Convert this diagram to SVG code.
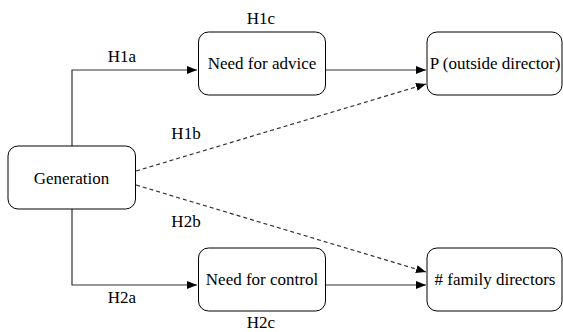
<svg xmlns="http://www.w3.org/2000/svg" width="563" height="332" viewBox="0 0 563 332" font-family="Liberation Serif, serif" font-size="17">
<style>
.box{fill:#fff;stroke:#000;stroke-width:1}
.t{fill:#000;text-anchor:middle}
.c{fill:none;stroke:#333;stroke-width:1.2}
.d{stroke-dasharray:4 3}
</style>
<defs>
<marker id="ah" viewBox="0 0 10 8" refX="10" refY="4" markerWidth="10" markerHeight="8" markerUnits="userSpaceOnUse" orient="auto">
<path d="M0,0 L10,4 L0,8 Z" fill="#000"/>
</marker>
</defs>
<g id="connectors">
<path class="c" d="M72,146 V70 H197" marker-end="url(#ah)"/>
<path class="c" d="M326,70 H426" marker-end="url(#ah)"/>
<path class="c d" d="M136,171 L426,84" marker-end="url(#ah)"/>
<path class="c d" d="M136,185 L426,272" marker-end="url(#ah)"/>
<path class="c" d="M72,209 V285 H197" marker-end="url(#ah)"/>
<path class="c" d="M326,285 H426" marker-end="url(#ah)"/>
<text class="t" x="122" y="62" font-family="Liberation Serif" font-size="17">H1a</text>
<text class="t" x="261" y="24" font-family="Liberation Serif" font-size="17">H1c</text>
<text class="t" x="186" y="139" font-family="Liberation Serif" font-size="17">H1b</text>
<text class="t" x="186" y="227" font-family="Liberation Serif" font-size="17">H2b</text>
<text class="t" x="122" y="303" font-family="Liberation Serif" font-size="17">H2a</text>
<text class="t" x="261" y="328" font-family="Liberation Serif" font-size="17">H2c</text>
</g>
<g id="generation"><rect class="box" x="8" y="146" width="127.5" height="63" rx="10"/><text class="t" x="71.5" y="184" font-family="Liberation Serif" font-size="17">Generation</text></g>
<g id="advice"><rect class="box" x="198.5" y="32" width="127" height="63" rx="10"/><text class="t" x="262" y="69" font-family="Liberation Serif" font-size="17">Need for advice</text></g>
<g id="control"><rect class="box" x="198.5" y="248" width="127" height="63" rx="10"/><text class="t" x="262" y="285" font-family="Liberation Serif" font-size="17">Need for control</text></g>
<g id="outside"><rect class="box" x="427" y="32" width="135" height="63" rx="10"/><text class="t" x="495" y="69" font-family="Liberation Serif" font-size="17">P (outside director)</text></g>
<g id="family"><rect class="box" x="427" y="248" width="135" height="63" rx="10"/><text class="t" x="495" y="285" font-family="Liberation Serif" font-size="17">#  family directors</text></g>
</svg>
